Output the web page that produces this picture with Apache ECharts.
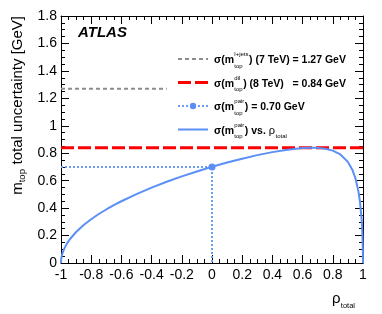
<!DOCTYPE html>
<html>
<head>
<meta charset="utf-8">
<script src="https://cdn.jsdelivr.net/npm/echarts@6/dist/echarts.min.js"></script>
<style>
html,body{margin:0;padding:0;background:#fff;}
#chart{width:382px;height:314px;}
</style>
</head>
<body>
<div id="chart"></div>
<script>
// ---- data ----
const rhoTotal = [-1, -0.999, -0.995, -0.99, -0.98, -0.96, -0.94, -0.9, -0.85, -0.8, -0.75, -0.7, -0.65, -0.6, -0.5, -0.4, -0.3, -0.2, -0.1, 0, 0.1, 0.2, 0.3, 0.4, 0.5, 0.6, 0.66, 0.7, 0.75, 0.8, 0.85, 0.9, 0.93, 0.95, 0.97, 0.98, 0.99, 0.995, 0.999, 1];
const sigmaPair = [0, 0.023, 0.051, 0.072, 0.101, 0.143, 0.175, 0.226, 0.277, 0.319, 0.357, 0.390, 0.421, 0.450, 0.502, 0.549, 0.592, 0.631, 0.667, 0.701, 0.732, 0.760, 0.786, 0.808, 0.826, 0.838, 0.840, 0.839, 0.833, 0.819, 0.791, 0.737, 0.678, 0.617, 0.520, 0.445, 0.331, 0.241, 0.110, 0];
const ljetsX = [-1, -0.3];
const ljetsY = [1.27, 1.27];
const dilX = [-1, 1];
const dilY = [0.84, 0.84];
const pairRefX = [-1, 0, 0];
const pairRefY = [0.70, 0.70, 0];
const pairPointIndex = 1;
const xTickValues = [-1, -0.8, -0.6, -0.4, -0.2, 0, 0.2, 0.4, 0.6, 0.8, 1];
const yTickValues = [0, 0.2, 0.4, 0.6, 0.8, 1, 1.2, 1.4, 1.6, 1.8];
const legendRows = [
  {sup: 'l+jets', rest: ') (7 TeV)', value: '= 1.27 GeV'},
  {sup: 'dil', rest: ') (8 TeV)', value: '= 0.84 GeV'},
  {sup: 'pair', rest: ') = 0.70 GeV', value: ''},
  {sup: 'pair', rest: ') vs. ', value: ''}
];

const FONT = "'Liberation Sans', Arial, sans-serif";
const C_GRAY = '#8c8c8c', C_RED = '#ff0000', C_BLUE = '#5b8ff7', C_BLUE_DOT = '#6e9cf7';

const zip = (a, b) => a.map((v, i) => [v, b[i]]);
const fmt = v => String(+(+v).toFixed(1));

const ctx = document.createElement('canvas').getContext('2d');
function tw(text, font) { ctx.font = font; return ctx.measureText(text).width; }

const chart = echarts.init(document.getElementById('chart'), null, {renderer: 'canvas'});

const gridL = 61, gridR = 19, gridT = 16, gridB = 51;

function axisCommon(extra) {
  return Object.assign({
    type: 'value',
    axisLine: {show: true, onZero: false, lineStyle: {color: '#000', width: 1}},
    axisTick: {show: true, inside: true, length: 8, lineStyle: {color: '#000', width: 1}},
    minorTick: {show: true, splitNumber: 4, length: 4, lineStyle: {color: '#000', width: 1}},
    splitLine: {show: false},
    minorSplitLine: {show: false}
  }, extra);
}

const xCommon = {min: -1, max: 1, interval: 0.2};
const yCommon = {min: 0, max: 1.8, interval: 0.2};

// legend graphics (keys + texts)
const legendEls = [];
const rowY = [59, 82.5, 106, 129.5];
const keyX0 = 178, keyX1 = 208, txtX = 214;
const mainFont = 'bold 10.5px ' + FONT;
const scrFont = '6px ' + FONT;
const keyStyles = [
  {stroke: C_GRAY, lineWidth: 2, lineDash: [4, 3]},
  {stroke: C_RED, lineWidth: 3, lineDash: [13, 4]},
  {stroke: C_BLUE_DOT, lineWidth: 2, lineDash: [2, 2]},
  {stroke: C_BLUE, lineWidth: 2}
];
let row1End = 0;
legendRows.forEach((r, i) => {
  const y = rowY[i];
  legendEls.push({type: 'line', shape: {x1: keyX0, y1: y, x2: keyX1, y2: y}, style: keyStyles[i], silent: true});
  if (i === 2) {
    legendEls.push({type: 'circle', shape: {cx: (keyX0 + keyX1) / 2, cy: y, r: 3.2}, style: {fill: C_BLUE}, silent: true});
  }
  const w1 = tw('σ(m', mainFont);
  legendEls.push({type: 'text', x: txtX, y: y + 1.5, style: {text: 'σ(m', font: mainFont, fill: '#000', verticalAlign: 'middle', align: 'left'}});
  const sx = txtX + w1 + 0.3;
  legendEls.push({type: 'text', x: sx, y: y - 4.4, style: {text: r.sup, font: scrFont, fill: '#000', verticalAlign: 'middle', align: 'left'}});
  legendEls.push({type: 'text', x: sx, y: y + 7.2, style: {text: 'top', font: scrFont, fill: '#000', verticalAlign: 'middle', align: 'left'}});
  const sw = Math.max(tw(r.sup, scrFont), tw('top', scrFont));
  const rx = sx + sw + 0.5;
  legendEls.push({type: 'text', x: rx, y: y + 1.5, style: {text: r.rest, font: mainFont, fill: '#000', verticalAlign: 'middle', align: 'left'}});
  let endX = rx + tw(r.rest, mainFont);
  if (i === 0) {
    const vx = endX + tw(' ', mainFont);
    legendEls.push({type: 'text', x: vx, y: y + 1.5, style: {text: r.value, font: mainFont, fill: '#000', verticalAlign: 'middle', align: 'left'}});
    row1End = vx + tw(r.value, mainFont);
  } else if (i === 1) {
    legendEls.push({type: 'text', x: row1End, y: y + 1.5, style: {text: r.value, font: mainFont, fill: '#000', verticalAlign: 'middle', align: 'right'}});
  } else if (i === 3) {
    const rf = '11px ' + FONT;
    legendEls.push({type: 'text', x: endX, y: y + 1.5, style: {text: 'ρ', font: rf, fill: '#000', verticalAlign: 'middle', align: 'left'}});
    legendEls.push({type: 'text', x: endX + tw('ρ', rf) + 0.5, y: y + 6.5, style: {text: 'total', font: scrFont, fill: '#000', verticalAlign: 'middle', align: 'left'}});
  }
});

// y-axis title (rotated), built from pieces
const yMain = '15px ' + FONT, ySub = '9.5px ' + FONT;
const yPieces = [
  {t: 'm', f: yMain, dy: 0},
  {t: 'top', f: ySub, dy: 4.5},
  {t: ' total uncertainty [GeV]', f: yMain, dy: 0}
];
let yLen = 0;
const yTitleChildren = yPieces.map(p => {
  const el = {type: 'text', x: yLen, y: p.dy, style: {text: p.t, font: p.f, fill: '#000', align: 'left', verticalAlign: 'middle'}};
  yLen += tw(p.t, p.f) + (p.t === 'top' ? 0.5 : 0);
  return el;
});
const yTitleGroup = {type: 'group', x: 18, y: gridT + yLen, rotation: Math.PI / 2, children: yTitleChildren};

// x-axis title
const rhoFont = '15px ' + FONT, totFont = '7.5px ' + FONT;
const totW = tw('total', totFont);
const xTitleEnd = 355;
const xTitle = [
  {type: 'text', x: xTitleEnd, y: 306, style: {text: 'total', font: totFont, fill: '#000', align: 'right', verticalAlign: 'middle'}},
  {type: 'text', x: xTitleEnd - totW - 0.3, y: 299, style: {text: 'ρ', font: rhoFont, fill: '#000', align: 'right', verticalAlign: 'middle'}}
];

const option = {
  animation: false,
  backgroundColor: '#fff',
  grid: {left: gridL, right: gridR, top: gridT, bottom: gridB, containLabel: false},
  xAxis: [
    axisCommon(Object.assign({}, xCommon, {
      position: 'bottom',
      axisLabel: {show: true, margin: 5, color: '#000', fontSize: 14, fontFamily: FONT,
        formatter: v => xTickValues.some(t => Math.abs(t - v) < 1e-9) ? fmt(v) : ''}
    })),
    axisCommon(Object.assign({}, xCommon, {position: 'top', axisLabel: {show: false}}))
  ],
  yAxis: [
    axisCommon(Object.assign({}, yCommon, {
      position: 'left',
      axisLabel: {show: true, margin: 4, color: '#000', fontSize: 14, fontFamily: FONT,
        formatter: v => yTickValues.some(t => Math.abs(t - v) < 1e-9) ? fmt(v) : ''}
    })),
    axisCommon(Object.assign({}, yCommon, {position: 'right', axisLabel: {show: false}}))
  ],
  series: [
    {
      name: 'sigma l+jets 7 TeV',
      type: 'line', xAxisIndex: 0, yAxisIndex: 0,
      data: zip(ljetsX, ljetsY), showSymbol: false, symbol: 'none',
      lineStyle: {color: C_GRAY, width: 2, type: [4, 3]}, z: 3
    },
    {
      name: 'sigma dil 8 TeV',
      type: 'line', xAxisIndex: 0, yAxisIndex: 0,
      data: zip(dilX, dilY), showSymbol: false, symbol: 'none',
      lineStyle: {color: C_RED, width: 3, type: [13, 4]}, z: 4
    },
    {
      name: 'sigma pair',
      type: 'line', xAxisIndex: 0, yAxisIndex: 0,
      data: zip(pairRefX, pairRefY).map((p, i) => i === pairPointIndex ? {value: p, symbol: 'circle', symbolSize: 7} : {value: p, symbol: 'none'}),
      symbol: 'circle', symbolSize: 7, showSymbol: true,
      itemStyle: {color: C_BLUE},
      lineStyle: {color: C_BLUE_DOT, width: 2, type: [2, 2]}, z: 5
    },
    {
      name: 'sigma pair vs rho',
      type: 'line', xAxisIndex: 0, yAxisIndex: 0,
      data: zip(rhoTotal, sigmaPair), showSymbol: false, symbol: 'none',
      lineStyle: {color: C_BLUE, width: 2}, z: 6
    }
  ],
  graphic: [
    {type: 'text', x: 78, y: 33, style: {text: 'ATLAS', font: 'italic bold 15px ' + FONT, fill: '#000', verticalAlign: 'middle', align: 'left'}},
    yTitleGroup
  ].concat(xTitle, legendEls)
};

chart.setOption(option);
</script>
</body>
</html>
